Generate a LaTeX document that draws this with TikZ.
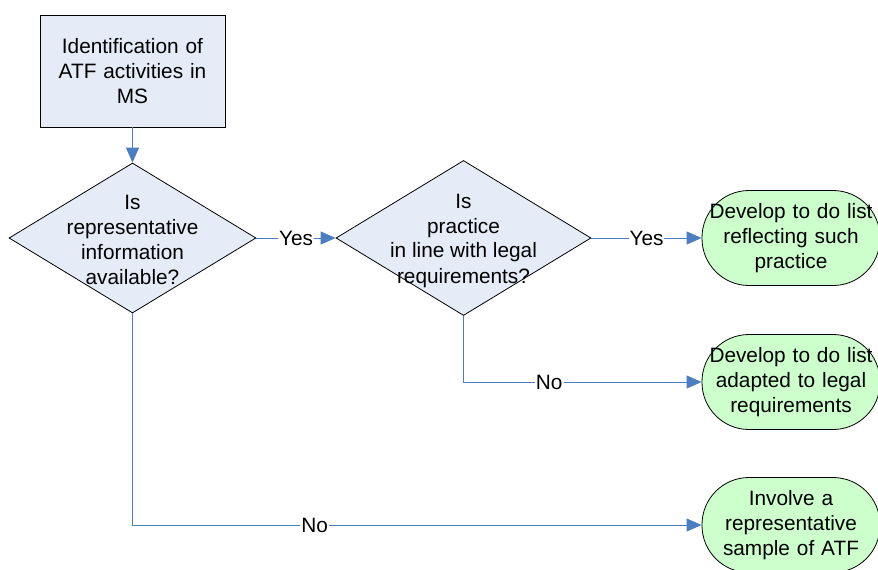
\documentclass[tikz,border=0pt]{standalone}
\usepackage{fontspec}
\setmainfont{Liberation Sans}
\usetikzlibrary{shapes.geometric,arrows.meta}
\definecolor{boxblue}{RGB}{230,236,247}
\definecolor{boxgreen}{RGB}{204,255,204}
\definecolor{linkblue}{RGB}{74,126,193}
\tikzset{ 
   line/.style ={
      -, line width=1pt, color=linkblue,
   },
   arrow/.style ={
      -{Triangle[length=15pt,width=13pt]}, line width=1pt, color=linkblue,
   },
   process/.style ={
      rectangle, draw, fill=boxblue, line width=0.8pt,
      align=center, text width=150pt,
   },
   decision/.style ={
      diamond, draw, fill=boxblue, line width=0.8pt, inner sep=0pt,
   },
   dtext/.style ={
      align=center, inner sep=0pt,
   },
   terminal/.style ={
      rectangle, rounded corners=47pt, draw, fill=boxgreen, line width=0.8pt,
      align=center, inner sep=0pt, text width=178pt,
   },
   lbl/.style ={
      fill=white, text=black, inner sep=1pt,
   },
}

\begin{document}
\begin{tikzpicture}[font=\fontsize{20.8}{25}\selectfont]

      \useasboundingbox (0pt,0pt) rectangle (878pt,-570pt);

      \node[
         process,
         minimum width=185pt,
         minimum height=112pt,
      ] (ident) at (132.5pt,-71pt){Identification of\\ATF activities in\\MS};

      \node[
         decision,
         minimum width=247pt,
         minimum height=150pt,
      ] (q1) at (132.5pt,-238pt){};
      \node[dtext] (q1t) at (132.5pt,-240pt){Is\\representative\\information\\available?};

      \node[
         decision,
         minimum width=255pt,
         minimum height=155pt,
      ] (q2) at (463.5pt,-238pt){};
      \node[dtext] (q2t) at (463.5pt,-240.5pt){Is\\practice\\in line with legal\\requirements?};

      \node[
         terminal,
         minimum height=95pt,
      ] (done) at (791pt,-238pt){Develop to do list\\reflecting such\\practice};

      \node[
         terminal,
         minimum height=95pt,
      ] (adapt) at (791pt,-382pt){Develop to do list\\adapted to legal\\requirements};

      \node[
         terminal,
         minimum height=95pt,
      ] (sample) at (791pt,-525pt){Involve a\\representative\\sample of ATF};

      \draw[arrow] (ident.south) -- (q1.north);
      \draw[arrow] (q1.east) -- node[lbl]{Yes} (q2.west);
      \draw[arrow] (q2.east) -- node[lbl]{Yes} (done.west);
      \draw[arrow] (q2.south) |- node[lbl,pos=0.68]{No} (adapt.west);
      \draw[arrow] (q1.south) |- node[lbl,pos=0.66]{No} (sample.west);

\end{tikzpicture}
\end{document}
